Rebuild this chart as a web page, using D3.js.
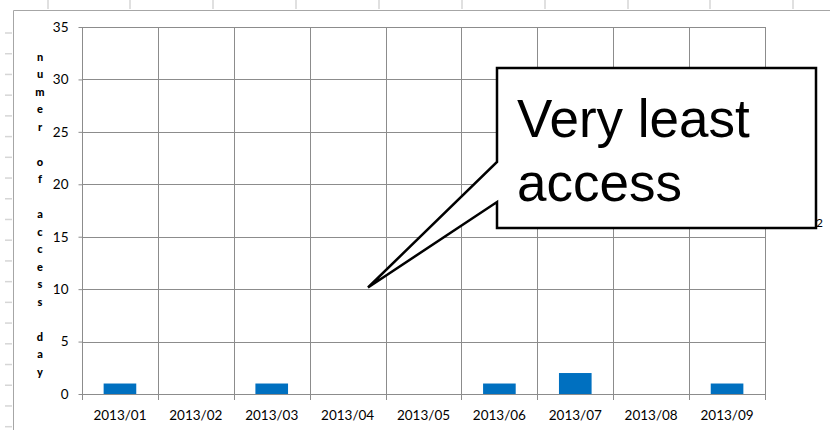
<!DOCTYPE html>
<html>
<head>
<meta charset="utf-8">
<script src="https://cdn.jsdelivr.net/npm/d3@7"></script>
<style>
  html, body { margin: 0; padding: 0; background: #fff; }
  svg { display: block; }
</style>
</head>
<body>
<svg id="chart" width="830" height="430"></svg>
<script>
// ---- data ----
const categories = ["2013/01","2013/02","2013/03","2013/04","2013/05","2013/06","2013/07","2013/08","2013/09"];
const accessCounts = [1, 0, 1, 0, 0, 1, 2, 0, 1];
const yTicks = [0, 5, 10, 15, 20, 25, 30, 35];
const axisTitle = "numer of access day";
const calloutLines = ["Very least", "access"];

const svg = d3.select("#chart");

// ---- spreadsheet background (outside chart area) ----
const sheet = svg.append("g");
[48, 130, 213, 296, 379, 462, 545, 628, 710, 793].forEach(cx => {
  sheet.append("line").attr("x1", cx).attr("x2", cx).attr("y1", 0).attr("y2", 9)
    .attr("stroke", "#d6d6d6").attr("stroke-width", 1.5);
});
for (let i = 0; i < 21; i++) {
  const ry = 33 + i * 20.72;
  sheet.append("line").attr("x1", 5).attr("x2", 12).attr("y1", ry).attr("y2", ry)
    .attr("stroke", "#d6d6d6").attr("stroke-width", 1.5);
}

// ---- chart area border ----
svg.append("path").attr("d", "M13.5,431 V10.5 H831")
  .attr("fill", "none").attr("stroke", "#a6a6a6").attr("stroke-width", 1);

// ---- scales ----
const plotLeft = 82, plotRight = 765, plotTop = 27, plotBottom = 394;
const x = d3.scaleBand().domain(categories).range([plotLeft, plotRight]).padding(0);
const y = d3.scaleLinear().domain([0, 35]).range([plotBottom, plotTop]);

// ---- grid ----
const grid = svg.append("g").attr("stroke", "#8c8c8c").attr("stroke-width", 1);
yTicks.forEach(t => {
  grid.append("line").attr("x1", plotLeft).attr("x2", plotRight)
    .attr("y1", Math.round(y(t)) + 0.5).attr("y2", Math.round(y(t)) + 0.5);
});
const bounds = categories.map(c => x(c)).concat([plotRight]);
bounds.forEach(b => {
  grid.append("line").attr("x1", Math.round(b) + 0.5).attr("x2", Math.round(b) + 0.5)
    .attr("y1", plotTop).attr("y2", plotBottom + 6);
});

// ---- bars ----
const barW = x.bandwidth() * 0.43;
svg.append("g").selectAll("rect").data(accessCounts).join("rect")
  .attr("x", (d, i) => x(categories[i]) + (x.bandwidth() - barW) / 2)
  .attr("width", barW)
  .attr("y", d => y(d))
  .attr("height", d => y(0) - y(d))
  .attr("fill", "#0070c0");

// ---- axes ----
const yAxis = svg.append("g").attr("transform", `translate(${plotLeft + 0.5},0)`)
  .call(d3.axisLeft(y).tickValues(yTicks).tickSize(4).tickPadding(10));
yAxis.select(".domain").remove();
yAxis.selectAll("line").attr("stroke", "#8c8c8c");
yAxis.selectAll("text").attr("font-family", "Lato, 'Open Sans', sans-serif")
  .attr("font-size", 13.5).attr("fill", "#000");

const xAxis = svg.append("g").attr("transform", `translate(0,${plotBottom})`)
  .call(d3.axisBottom(x).tickSize(0).tickPadding(16));
xAxis.select(".domain").remove();
xAxis.selectAll("text").attr("font-family", "Lato, 'Open Sans', sans-serif")
  .attr("font-size", 13.5).attr("fill", "#000");

// ---- stacked axis title ----
const title = svg.append("g");
axisTitle.split("").forEach((ch, i) => {
  if (ch === " ") return;
  title.append("text").attr("x", 40).attr("y", 57 + i * 17.5).attr("dy", "0.35em")
    .attr("text-anchor", "middle").attr("font-family", "Lato, 'Open Sans', sans-serif")
    .attr("font-weight", "900").attr("font-size", 11).attr("fill", "#000").text(ch);
});

// ---- stray data label partially visible ----
svg.append("text").attr("x", 816).attr("y", 227).attr("font-family", "Lato, sans-serif")
  .attr("font-size", 12).attr("fill", "#000").text("2");

// ---- callout ----
const cl = 497, ct = 68, cr = 816, cb = 228;
svg.append("path")
  .attr("d", `M${cl},${ct} H${cr} V${cb} H${cl} V202 L368,287.5 L${cl},162 Z`)
  .attr("fill", "#fff").attr("stroke", "#000").attr("stroke-width", 2.5)
  .attr("stroke-linejoin", "miter");
calloutLines.forEach((t, i) => {
  svg.append("text").attr("x", 517).attr("y", 137 + i * 64)
    .attr("font-family", "'Liberation Sans', Arial, sans-serif")
    .attr("font-size", 53).attr("fill", "#000").text(t);
});
</script>
</body>
</html>
